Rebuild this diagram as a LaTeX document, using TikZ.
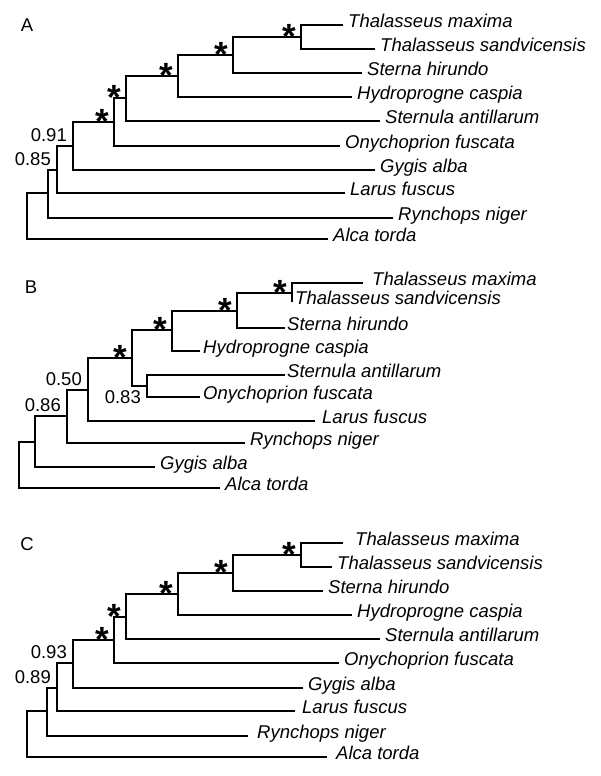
\documentclass[tikz,border=0pt]{standalone}
\usepackage{fontspec}
\setmainfont{Liberation Sans}
\usetikzlibrary{positioning}

\tikzset{
    branch/.style={line width=1.4pt},
    taxon/.style={font=\fontsize{18.5}{20}\selectfont\itshape, inner sep=0pt, anchor=base west, xshift=5pt, yshift=-2.7pt},
    support/.style={font=\fontsize{18.5}{20}\selectfont, inner sep=0pt, anchor=base east, xshift=-6pt, yshift=4.5pt},
    star/.style={font=\fontsize{35}{37}\selectfont\bfseries, inner sep=0pt, anchor=base, xshift=-12pt, yshift=-11.2pt},
    panel/.style={font=\fontsize{18.5}{20}\selectfont, inner sep=0pt},
}

\begin{document}
\begin{tikzpicture}[x=1pt, y=-1pt]
    \useasboundingbox (0,0) rectangle (600,776);

    % tree A
    \coordinate (A0) at (27, 216);
    \coordinate (A1) at (48, 193);
    \coordinate (A2) at (57, 170);
    \coordinate (A3) at (73, 146);
    \coordinate (A4) at (114, 122);
    \coordinate (A5) at (126, 98);
    \coordinate (A6) at (178, 76);
    \coordinate (A7) at (233, 55);
    \coordinate (A8) at (301, 37);
    \coordinate (A-max) at (343, 25);
    \coordinate (A-san) at (375, 49);
    \coordinate (A-hir) at (362, 73);
    \coordinate (A-cas) at (352, 97);
    \coordinate (A-ant) at (380, 121);
    \coordinate (A-fus) at (340, 146);
    \coordinate (A-gyg) at (375, 170);
    \coordinate (A-lar) at (345, 193);
    \coordinate (A-ryn) at (393, 218);
    \coordinate (A-alc) at (328, 239);

    \node[panel] (A-lab) at (27, 25) {A};

    \draw[branch] (A-alc) -| (A0) |- (A1);
    \draw[branch] (A-ryn) -| (A1) |- (A2);
    \draw[branch] (A-lar) -| (A2) |- (A3);
    \draw[branch] (A-gyg) -| (A3) |- (A4);
    \draw[branch] (A-fus) -| (A4) |- (A5);
    \draw[branch] (A-ant) -| (A5) |- (A6);
    \draw[branch] (A-cas) -| (A6) |- (A7);
    \draw[branch] (A-hir) -| (A7) |- (A8);
    \draw[branch] (A-san) -| (A8) |- (A-max);

    \node[taxon] (A-tmax) at (A-max) {Thalasseus maxima};
    \node[taxon] (A-tsan) at (A-san) {Thalasseus sandvicensis};
    \node[taxon] (A-thir) at (A-hir) {Sterna hirundo};
    \node[taxon] (A-tcas) at (A-cas) {Hydroprogne caspia};
    \node[taxon] (A-tant) at (A-ant) {Sternula antillarum};
    \node[taxon] (A-tfus) at (A-fus) {Onychoprion fuscata};
    \node[taxon] (A-tgyg) at (A-gyg) {Gygis alba};
    \node[taxon] (A-tlar) at (A-lar) {Larus fuscus};
    \node[taxon] (A-tryn) at (A-ryn) {Rynchops niger};
    \node[taxon] (A-talc) at (A-alc) {Alca torda};

    \node[support] (A-p2) at (A2) {0.85};
    \node[support] (A-p3) at (A3) {0.91};
    \node[star] (A-s4) at (A4) {*};
    \node[star] (A-s5) at (A5) {*};
    \node[star] (A-s6) at (A6) {*};
    \node[star] (A-s7) at (A7) {*};
    \node[star] (A-s8) at (A8) {*};

    % tree B
    \coordinate (B0) at (19, 465);
    \coordinate (B1) at (35, 442);
    \coordinate (B2) at (67, 416);
    \coordinate (B3) at (88, 390);
    \coordinate (B4) at (132, 358);
    \coordinate (B5) at (172, 330);
    \coordinate (B6) at (237, 311);
    \coordinate (B7) at (292, 293);
    \coordinate (B9) at (147, 386);
    \coordinate (B-max) at (363, 283);
    \coordinate (B-san) at (292, 302);
    \coordinate (B-hir) at (285, 328);
    \coordinate (B-cas) at (200, 351);
    \coordinate (B-ant) at (285, 375);
    \coordinate (B-fus) at (200, 397);
    \coordinate (B-lar) at (315, 421);
    \coordinate (B-ryn) at (245, 443);
    \coordinate (B-gyg) at (155, 467);
    \coordinate (B-alc) at (220, 488);

    \node[panel] (B-lab) at (31, 287) {B};

    \draw[branch] (B-alc) -| (B0) |- (B1);
    \draw[branch] (B-gyg) -| (B1) |- (B2);
    \draw[branch] (B-ryn) -| (B2) |- (B3);
    \draw[branch] (B-lar) -| (B3) |- (B4);
    \draw[branch] (B9) -| (B4) |- (B5);
    \draw[branch] (B-fus) -| (B9) |- (B-ant);
    \draw[branch] (B-cas) -| (B5) |- (B6);
    \draw[branch] (B-hir) -| (B6) |- (B7);
    \draw[branch] (B-san) -| (B7) |- (B-max);

    \node[taxon, xshift=4pt] (B-tmax) at (B-max) {Thalasseus maxima};
    \node[taxon, xshift=-2pt] (B-tsan) at (B-san) {Thalasseus sandvicensis};
    \node[taxon, xshift=-3pt] (B-thir) at (B-hir) {Sterna hirundo};
    \node[taxon, xshift=-2pt] (B-tcas) at (B-cas) {Hydroprogne caspia};
    \node[taxon, xshift=-3pt] (B-tant) at (B-ant) {Sternula antillarum};
    \node[taxon, xshift=-2pt] (B-tfus) at (B-fus) {Onychoprion fuscata};
    \node[taxon, xshift=2pt] (B-tlar) at (B-lar) {Larus fuscus};
    \node[taxon] (B-tryn) at (B-ryn) {Rynchops niger};
    \node[taxon] (B-tgyg) at (B-gyg) {Gygis alba};
    \node[taxon] (B-talc) at (B-alc) {Alca torda};

    \node[support] (B-p2) at (B2) {0.86};
    \node[support] (B-p3) at (B3) {0.50};
    \node[support, yshift=-22pt] (B-p9) at (B9) {0.83};
    \node[star] (B-s4) at (B4) {*};
    \node[star] (B-s5) at (B5) {*};
    \node[star] (B-s6) at (B6) {*};
    \node[star] (B-s7) at (B7) {*};

    % tree C
    \coordinate (C0) at (27, 734);
    \coordinate (C1) at (47, 711);
    \coordinate (C2) at (57, 688);
    \coordinate (C3) at (73, 663);
    \coordinate (C4) at (114, 640);
    \coordinate (C5) at (126, 617);
    \coordinate (C6) at (178, 594);
    \coordinate (C7) at (233, 573);
    \coordinate (C8) at (301, 555);
    \coordinate (C-max) at (343, 543);
    \coordinate (C-san) at (332, 567);
    \coordinate (C-hir) at (323, 591);
    \coordinate (C-cas) at (352, 615);
    \coordinate (C-ant) at (380, 639);
    \coordinate (C-fus) at (339, 663);
    \coordinate (C-gyg) at (303, 688);
    \coordinate (C-lar) at (295, 711);
    \coordinate (C-ryn) at (248, 736);
    \coordinate (C-alc) at (327, 757);

    \node[panel] (C-lab) at (27, 544) {C};

    \draw[branch] (C-alc) -| (C0) |- (C1);
    \draw[branch] (C-ryn) -| (C1) |- (C2);
    \draw[branch] (C-lar) -| (C2) |- (C3);
    \draw[branch] (C-gyg) -| (C3) |- (C4);
    \draw[branch] (C-fus) -| (C4) |- (C5);
    \draw[branch] (C-ant) -| (C5) |- (C6);
    \draw[branch] (C-cas) -| (C6) |- (C7);
    \draw[branch] (C-hir) -| (C7) |- (C8);
    \draw[branch] (C-san) -| (C8) |- (C-max);

    \node[taxon, xshift=7pt] (C-tmax) at (C-max) {Thalasseus maxima};
    \node[taxon] (C-tsan) at (C-san) {Thalasseus sandvicensis};
    \node[taxon] (C-thir) at (C-hir) {Sterna hirundo};
    \node[taxon] (C-tcas) at (C-cas) {Hydroprogne caspia};
    \node[taxon] (C-tant) at (C-ant) {Sternula antillarum};
    \node[taxon] (C-tfus) at (C-fus) {Onychoprion fuscata};
    \node[taxon] (C-tgyg) at (C-gyg) {Gygis alba};
    \node[taxon, xshift=2pt] (C-tlar) at (C-lar) {Larus fuscus};
    \node[taxon, xshift=4pt] (C-tryn) at (C-ryn) {Rynchops niger};
    \node[taxon, xshift=4pt] (C-talc) at (C-alc) {Alca torda};

    \node[support] (C-p2) at (C2) {0.89};
    \node[support] (C-p3) at (C3) {0.93};
    \node[star] (C-s4) at (C4) {*};
    \node[star] (C-s5) at (C5) {*};
    \node[star] (C-s6) at (C6) {*};
    \node[star] (C-s7) at (C7) {*};
    \node[star] (C-s8) at (C8) {*};
\end{tikzpicture}
\end{document}
